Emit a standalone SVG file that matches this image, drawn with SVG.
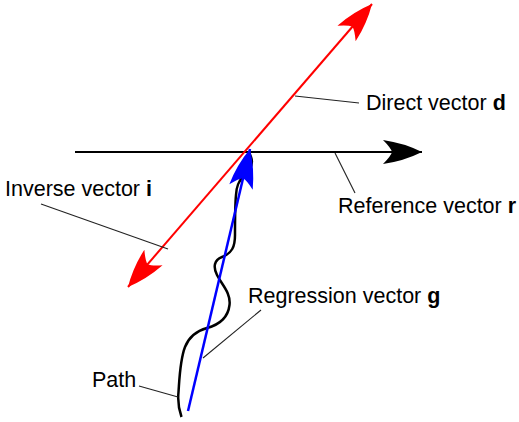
<svg xmlns="http://www.w3.org/2000/svg" width="519" height="422" viewBox="0 0 519 422">
<style>
text{font-family:"Liberation Sans",Arial,sans-serif;font-size:21.5px;fill:#000}
.b{font-weight:bold}
.leader{stroke:#222;stroke-width:1.1;fill:none}
</style>
<defs>
<marker id="ahK" markerUnits="userSpaceOnUse" viewBox="-40 -13 41 26" refX="0" refY="0" markerWidth="41" markerHeight="26" orient="auto" overflow="visible">
<path d="M0,0 Q-18,-9 -39,-12 Q-31,-4 -30,0 Q-31,4 -39,12 Q-18,9 0,0Z" fill="#000"/>
</marker>
<marker id="ahR" markerUnits="userSpaceOnUse" viewBox="-40 -13 41 26" refX="0" refY="0" markerWidth="41" markerHeight="26" orient="auto" overflow="visible">
<path d="M0,0 Q-18,-9 -39,-12 Q-31,-4 -30,0 Q-31,4 -39,12 Q-18,9 0,0Z" fill="#f00"/>
</marker>
<marker id="ahRs" markerUnits="userSpaceOnUse" viewBox="-1 -13 41 26" refX="0" refY="0" markerWidth="41" markerHeight="26" orient="auto" overflow="visible">
<path d="M0,0 Q18,-9 39,-12 Q31,-4 30,0 Q31,4 39,12 Q18,9 0,0Z" fill="#f00"/>
</marker>
<marker id="ahB" markerUnits="userSpaceOnUse" viewBox="-40 -13 41 26" refX="0" refY="0" markerWidth="41" markerHeight="26" orient="auto" overflow="visible">
<path d="M0,0 Q-18,-9 -39,-12 Q-31,-4 -30,0 Q-31,4 -39,12 Q-18,9 0,0Z" fill="#00f"/>
</marker>
</defs>
<rect width="519" height="422" fill="#fff"/>
<g id="connectors">
<line id="reference" x1="75" y1="152" x2="422" y2="152" stroke="#000" stroke-width="2" marker-end="url(#ahK)"/>
<line id="direct-inverse" x1="128" y1="287" x2="372" y2="4" stroke="#f00" stroke-width="2" marker-start="url(#ahRs)" marker-end="url(#ahR)"/>
<path id="path-curve" d="M181.5,417 C179,410 177.5,402 178.5,392 C179.5,378 180,360 185,347 C189,337 196,331 207,328 C218,325 228,318 229.5,305 C231,293 222,285 217,275 C213,267 214,260 222,257 C232,253 235,247 235,235 C235,220 235,205 236,195 C236.5,185 239,181 243,177 C250,171 254,165 251,157 L249,152" fill="none" stroke="#000" stroke-width="2.5"/>
<line id="regression" x1="188" y1="411" x2="250" y2="149" stroke="#00f" stroke-width="2.5" marker-end="url(#ahB)"/>
<line class="leader" x1="295" y1="96" x2="359" y2="103"/>
<line class="leader" x1="335" y1="153" x2="355" y2="193"/>
<line class="leader" x1="41" y1="204" x2="168" y2="249"/>
<line class="leader" x1="203" y1="358" x2="261" y2="310"/>
<line class="leader" x1="139" y1="386" x2="178" y2="397"/>
</g>
<g id="label-direct"><text x="366" y="110">Direct vector <tspan class="b">d</tspan></text></g>
<g id="label-reference"><text x="338" y="213">Reference vector <tspan class="b">r</tspan></text></g>
<g id="label-inverse"><text x="5" y="196">Inverse vector <tspan class="b">i</tspan></text></g>
<g id="label-regression"><text x="248" y="303">Regression vector <tspan class="b">g</tspan></text></g>
<g id="label-path"><text x="92" y="387">Path</text></g>
</svg>
